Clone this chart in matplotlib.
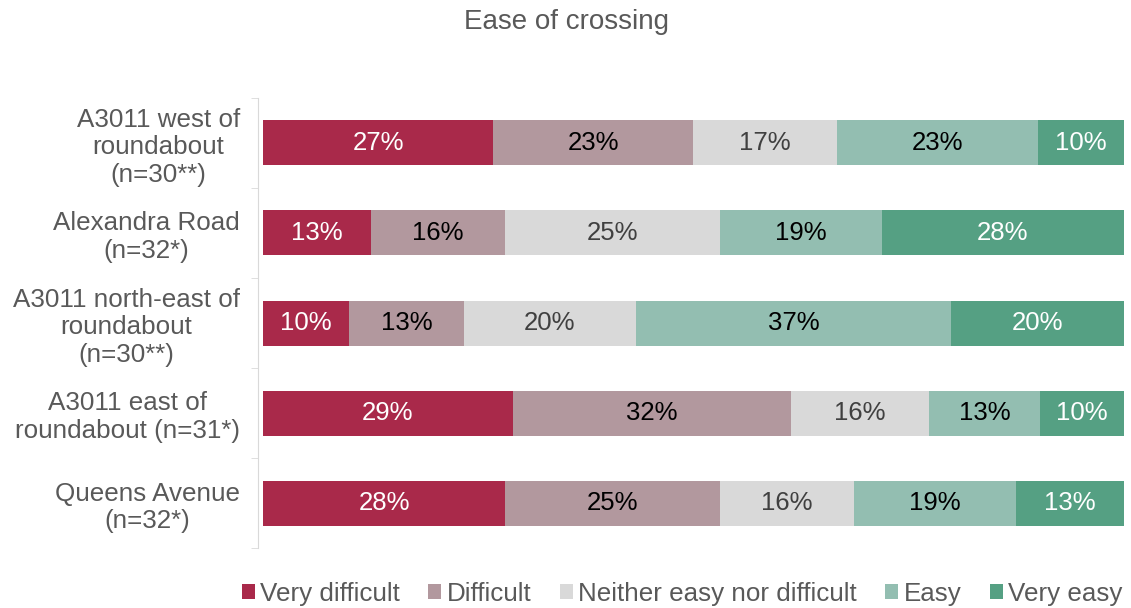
import numpy as np
import matplotlib.pyplot as plt

plt.rcParams['font.family'] = ['Liberation Sans', 'DejaVu Sans']

locations = ['A3011 west of\nroundabout\n(n=30**)',
             'Alexandra Road\n(n=32*)',
             'A3011 north-east of\nroundabout\n(n=30**)',
             'A3011 east of\nroundabout (n=31*)',
             'Queens Avenue\n(n=32*)']
responses = ['Very difficult', 'Difficult', 'Neither easy nor difficult', 'Easy', 'Very easy']

very_difficult = [26.7, 12.5, 10.0, 29.0, 28.1]
difficult = [23.3, 15.6, 13.3, 32.3, 25.0]
neither = [16.7, 25.0, 20.0, 16.1, 15.6]
easy = [23.3, 18.8, 36.7, 12.9, 18.8]
very_easy = [10.0, 28.1, 20.0, 9.7, 12.5]

series = [very_difficult, difficult, neither, easy, very_easy]
colors = ['#A9294A', '#B2989E', '#D9D9D9', '#93BEB1', '#55A083']
text_colors = ['white', 'black', '#404040', 'black', 'white']

fig = plt.figure(figsize=(11.31, 6.08), dpi=100)
ax = fig.add_axes([258 / 1131, 1 - 548 / 608, (1124 - 258) / 1131, 450 / 608])

y = np.arange(len(locations))
left = np.zeros(len(locations))
for vals, name, col, tcol in zip(series, responses, colors, text_colors):
    vals = np.array(vals)
    ax.barh(y, vals, left=left, height=0.5, color=col, label=name)
    for yi, l, v in zip(y, left, vals):
        ax.text(l + v / 2, yi, f'{int(v + 0.5)}%', ha='center', va='center',
                color=tcol, fontsize=18.5)
    left += vals

ax.set_xlim(-0.6, 100.05)
ax.set_ylim(len(locations) - 0.5, -0.5)
ax.set_xticks([])
ax.set_yticks(y)
ax.set_yticklabels(locations, fontsize=18.7, color='#595959', multialignment='center')
ax.tick_params(axis='y', which='major', length=0, pad=13)
ax.set_yticks(np.arange(-0.5, len(locations)), minor=True)
ax.tick_params(axis='y', which='minor', length=5, color='#D9D9D9')
for s in ['top', 'right', 'bottom']:
    ax.spines[s].set_visible(False)
ax.spines['left'].set_color('#D9D9D9')

fig.text(567 / 1131, 1 - 22 / 608, 'Ease of crossing', fontsize=20, color='#595959',
         ha='center', va='center')

fig.legend(loc='center', bbox_to_anchor=(682 / 1131, 1 - 594 / 608), ncol=5, frameon=False,
           fontsize=18.7, labelcolor='#595959', handlelength=0.5, handleheight=0.5,
           handletextpad=0.2, columnspacing=1.1, borderpad=0, borderaxespad=0)

fig.savefig('out.png', dpi=100)
